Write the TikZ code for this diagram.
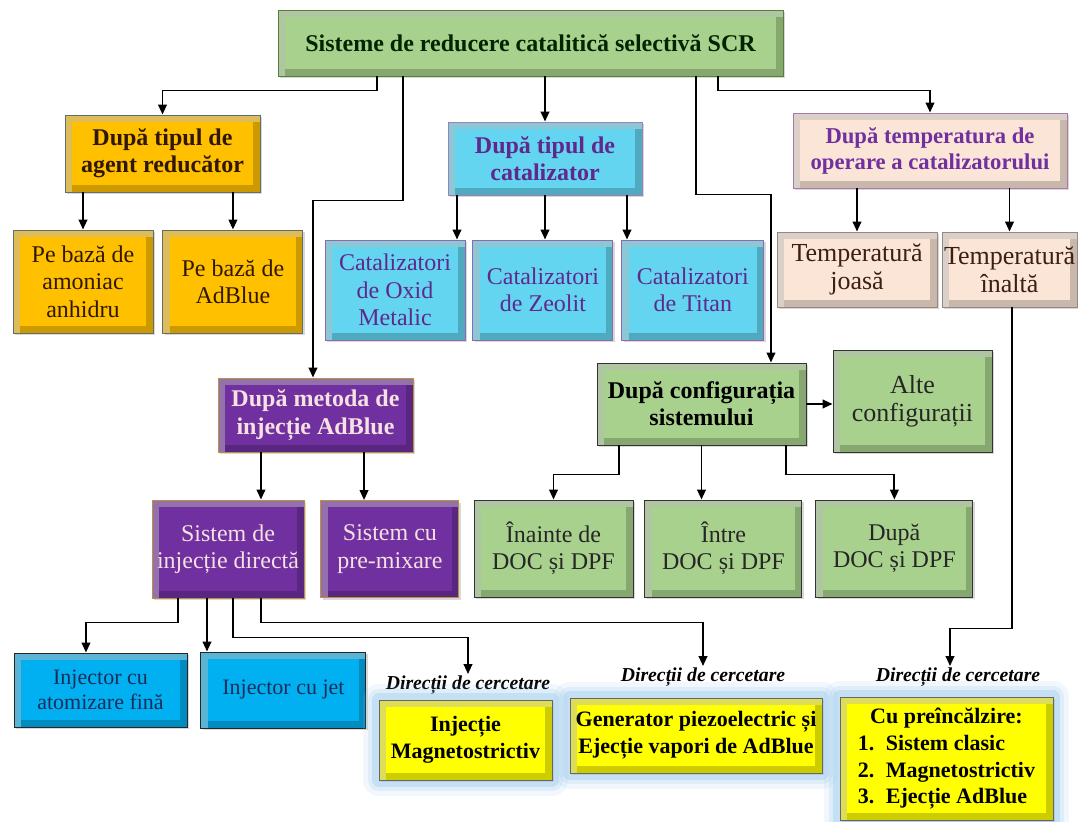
\documentclass[tikz,border=0pt]{standalone}
\usepackage{fontspec}
\setmainfont{Liberation Serif}
\usetikzlibrary{arrows.meta, positioning, shadows}
\definecolor{scrgreen}{RGB}{169, 209, 142}
\definecolor{scrgreenedge}{RGB}{84, 130, 53}
\definecolor{agentgold}{RGB}{255, 192, 0}
\definecolor{agentedge}{RGB}{96, 110, 110}
\definecolor{agenttext}{RGB}{48, 24, 0}
\definecolor{catcyan}{RGB}{99, 213, 240}
\definecolor{catpurple}{RGB}{96, 40, 140}
\definecolor{temppink}{RGB}{251, 229, 214}
\definecolor{tempedge}{RGB}{170, 120, 170}
\definecolor{temptext}{RGB}{60, 30, 20}
\definecolor{injpurple}{RGB}{112, 48, 160}
\definecolor{injtext}{RGB}{245, 225, 225}
\definecolor{injedge}{RGB}{191, 144, 60}
\definecolor{nozzleblue}{RGB}{0, 176, 240}
\definecolor{nozzletext}{RGB}{25, 45, 90}
\definecolor{researchyellow}{RGB}{255, 255, 0}
\definecolor{glowblue}{RGB}{140, 195, 235}
\tikzset{
  >=Stealth,
  flowarrow/.style={-{Triangle[length=7.5pt, width=6.5pt]}, line width=1.4pt, black},
  sz/.style 2 args={minimum width=#1*0.75pt, minimum height=#2*0.75pt},
  bevelbox/.style={draw, rectangle, inner sep=0pt, align=center, line width=0.7pt,
    drop shadow={shadow xshift=1.8pt, shadow yshift=-1.8pt, opacity=0.3},
    path picture={
      \draw[line width=10pt, black, opacity=0.2] (path picture bounding box.south west) rectangle (path picture bounding box.north east);
      \draw[line width=10pt, white, opacity=0.35] (path picture bounding box.south west) -- (path picture bounding box.north west) -- (path picture bounding box.north east);
    }},
  bodytext/.style={font=\fontsize{18}{20.5}\selectfont},
  headtext/.style={font=\bfseries\fontsize{18}{20.5}\selectfont},
  titlebox/.style={bevelbox, fill=scrgreen, draw=scrgreenedge, headtext, text=black!85!green},
  agenthead/.style={bevelbox, fill=agentgold, draw=agentedge, headtext, text=agenttext},
  agentleaf/.style={bevelbox, fill=agentgold, draw=agentedge, bodytext, text=agenttext},
  cathead/.style={bevelbox, fill=catcyan, draw=catpurple!60, headtext, text=catpurple},
  catleaf/.style={bevelbox, fill=catcyan, draw=catpurple!70, bodytext, text=catpurple},
  temphead/.style={bevelbox, fill=temppink, draw=tempedge, text=injpurple, font=\bfseries\fontsize{17}{19.5}\selectfont},
  templeaf/.style={bevelbox, fill=temppink, draw=temppink!60!black, text=temptext, font=\fontsize{19.5}{21}\selectfont},
  injhead/.style={bevelbox, fill=injpurple, draw=injedge, headtext, text=injtext},
  injleaf/.style={bevelbox, fill=injpurple, draw=injedge, bodytext, text=injtext},
  confhead/.style={bevelbox, fill=scrgreen, draw=black!80, headtext, text=black},
  confleaf/.style={bevelbox, fill=scrgreen, draw=black!80, bodytext, text=black!85},
  nozzlebox/.style={bevelbox, fill=nozzleblue, draw=black!85, text=nozzletext, font=\fontsize{16.5}{19}\selectfont},
  researchbox/.style={bevelbox, fill=researchyellow, draw=black!60, text=black,
    font=\bfseries\fontsize{16.5}{20}\selectfont,
    preaction={draw=glowblue, line width=24pt, opacity=0.12, line join=round},
    preaction={draw=glowblue, line width=17pt, opacity=0.18, line join=round},
    preaction={draw=glowblue, line width=10pt, opacity=0.3, line join=round}},
  researchlabel/.style={inner sep=1pt, font=\bfseries\itshape\fontsize{14.8}{16}\selectfont}
}

\begin{document}
\begin{tikzpicture}[x=0.75pt, y=-0.75pt]
    \useasboundingbox[fill=white] (0,0) rectangle (1078,821);

    % top level
    \node (title) [titlebox, sz={505}{66}] at (530.5,43) {Sisteme de reducere catalitică selectivă SCR};

    % reducing agent branch
    \node (agent) [agenthead, sz={195}{77}] at (162.5,153.5) {După tipul de\\agent reducător};
    \node (amoniac) [agentleaf, sz={140}{103}] at (83,281.5) {Pe bază de\\amoniac\\anhidru};
    \node (adblue) [agentleaf, sz={140}{103}, right=6.75pt of amoniac] {Pe bază de\\AdBlue};

    % catalyst branch
    \node (catal) [cathead, sz={194}{73}] at (545,158.5) {După tipul de\\catalizator};
    \node (oxid) [catleaf, sz={140}{100}] at (395,290) {Catalizatori\\de Oxid\\Metalic};
    \node (zeolit) [catleaf, sz={140}{100}, right=5.25pt of oxid] {Catalizatori\\de Zeolit};
    \node (titan) [catleaf, sz={142}{100}, right=6pt of zeolit] {Catalizatori\\de Titan};

    % temperature branch
    \node (temp) [temphead, sz={274}{75}] at (930,150.5) {După temperatura de\\operare a catalizatorului};
    \node (joasa) [templeaf, sz={160}{75}] at (857,269.5) {Temperatură\\joasă};
    \node (inalta) [templeaf, sz={135}{75}] at (1009.5,269.5) {Temperatură\\înaltă};

    % injection branch
    \node (metoda) [injhead, sz={195}{74}] at (315.5,415) {După metoda de\\injecție AdBlue};
    \node (directa) [injleaf, sz={152}{98}] at (228,549) {Sistem de\\injecție directă};
    \node (premix) [injleaf, sz={138}{97}, right=12pt of directa] {Sistem cu\\pre-mixare};
    \node (atomiz) [nozzlebox, sz={173}{74}] at (100.5,690) {Injector cu\\atomizare fină};
    \node (jet) [nozzlebox, sz={165}{76}, right=9.75pt of atomiz] {Injector cu jet};

    % configuration branch
    \node (config) [confhead, sz={209}{82}] at (701.5,404) {După configurația\\sistemului};
    \node (alte) [confleaf, sz={159}{102}, font=\fontsize{19.5}{21}\selectfont] at (912.5,401) {Alte\\configurații};
    \node (inainte) [confleaf, sz={159}{97}] at (553.5,548.5) {Înainte de\\DOC și DPF};
    \node (intre) [confleaf, sz={157}{97}, right=8.25pt of inainte] {Între\\DOC și DPF};
    \node (dupadoc) [confleaf, sz={157}{97}, right=9.75pt of intre] {După\\DOC și DPF};

    % research directions
    \node (dir1) [researchlabel] at (468,685) {Direcții de cercetare};
    \node (dir2) [researchlabel] at (703,677) {Direcții de cercetare};
    \node (dir3) [researchlabel] at (958,677) {Direcții de cercetare};
    \node (magneto) [researchbox, sz={173}{80}] at (465.5,740) {Injecție\\Magnetostrictiv};
    \node (piezo) [researchbox, sz={252}{75}] at (696,735.5) {Generator piezoelectric și\\Ejecție vapori de AdBlue};
    \node (preheat) [researchbox, sz={213}{123}] at (946.5,758.5) {%
      \begin{tabular}{@{}l@{}}
        \multicolumn{1}{c}{Cu preîncălzire:}\\
        \makebox[21pt][l]{1.}Sistem clasic\\
        \makebox[21pt][l]{2.}Magnetostrictiv\\
        \makebox[21pt][l]{3.}Ejecție AdBlue
      \end{tabular}};

    % connectors from the top box
    \draw[flowarrow] ([xshift=-115.1pt]title.south) -- ++(0,14) -| (agent.north);
    \draw[flowarrow] ([xshift=-95.6pt]title.south) -- ++(0,124) -| ([xshift=-1.9pt]metoda.north);
    \draw[flowarrow] (title.south -| catal.north) -- (catal.north);
    \draw[flowarrow] ([xshift=124.1pt]title.south) -- ++(0,118) -| ([xshift=52.1pt]config.north);
    \draw[flowarrow] ([xshift=140.6pt]title.south) -- ++(0,14) -| (temp.north);

    \draw[flowarrow] (amoniac.north |- agent.south) -- (amoniac.north);
    \draw[flowarrow] (adblue.north |- agent.south) -- (adblue.north);

    \draw[flowarrow] ([xshift=-66pt]catal.south) -- ([xshift=-66pt]catal.south |- oxid.north);
    \draw[flowarrow] (catal.south) -- (catal.south |- zeolit.north);
    \draw[flowarrow] ([xshift=61.5pt]catal.south) -- ([xshift=61.5pt]catal.south |- titan.north);

    \draw[flowarrow] (joasa.north |- temp.south) -- (joasa.north);
    \draw[flowarrow] (inalta.north |- temp.south) -- (inalta.north);
    \draw[flowarrow] ([xshift=1.9pt]inalta.south) -- ++(0,321) -| ([xshift=-6pt]dir3.north);

    \draw[flowarrow] ([xshift=-40.9pt]metoda.south) -- ([xshift=-40.9pt]metoda.south |- directa.north);
    \draw[flowarrow] ([xshift=36.4pt]metoda.south) -- ([xshift=36.4pt]metoda.south |- premix.north);

    \draw[flowarrow] (config.east) -- (config.east -| alte.west);
    \draw[flowarrow] ([xshift=-61.9pt]config.south) -- ++(0,29) -| (inainte.north);
    \draw[flowarrow] (config.south) -- (config.south |- intre.north);
    \draw[flowarrow] ([xshift=63.4pt]config.south) -- ++(0,29) -| (dupadoc.north);

    \draw[flowarrow] ([xshift=-37.5pt]directa.south) -- ++(0,24) -| ([xshift=-10.9pt]atomiz.north);
    \draw[flowarrow] ([xshift=-15.75pt]directa.south) -- ([xshift=-15.75pt]directa.south |- jet.north);
    \draw[flowarrow] ([xshift=3.75pt]directa.south) -- ++(0,39) -| (dir1.north);
    \draw[flowarrow] ([xshift=24.75pt]directa.south) -- ++(0,24) -| (dir2.north);
\end{tikzpicture}
\end{document}
